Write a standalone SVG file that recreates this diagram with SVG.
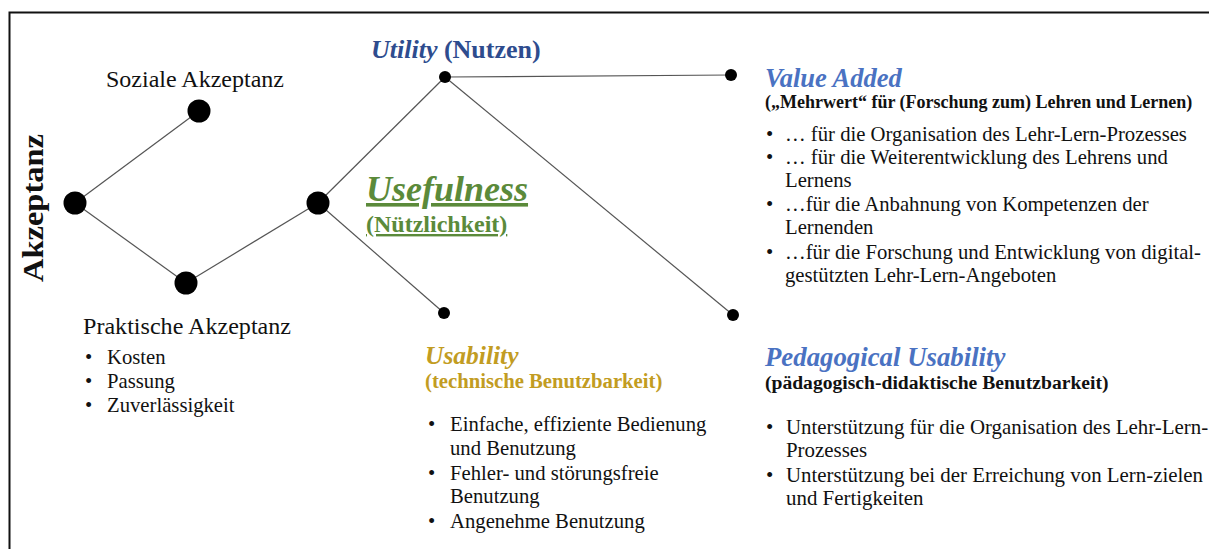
<svg xmlns="http://www.w3.org/2000/svg" width="1209" height="549" viewBox="0 0 1209 549">
<style>
text{font-family:"Liberation Serif","Times New Roman",serif;fill:#111}
.h{font-size:23px}
.b{font-size:20.7px}
.p{font-size:20.9px}
.bi{font-weight:bold;font-style:italic}
.bo{font-weight:bold}
.sub{font-size:18px;font-weight:bold}
.ln{stroke:#555;stroke-width:1.2;fill:none}
.big{fill:#000}
.blue1{fill:#2E4C8E}
.blue2{fill:#4A72C2}
.green{fill:#5B8A3A}
.gold{fill:#C29C22}
</style>
<rect width="1209" height="549" fill="#fff"/>
<path d="M9.5 549 V12.5 H1209" fill="none" stroke="#111" stroke-width="2"/>
<g id="connectors">
<line class="ln" x1="75" y1="203" x2="199" y2="111"/>
<line class="ln" x1="75" y1="203" x2="186" y2="283"/>
<line class="ln" x1="186" y1="283" x2="318" y2="203"/>
<line class="ln" x1="318" y1="203" x2="445" y2="77"/>
<line class="ln" x1="318" y1="203" x2="444" y2="313"/>
<line class="ln" x1="445" y1="77" x2="731" y2="75"/>
<line class="ln" x1="445" y1="77" x2="733" y2="315"/>
</g>
<g id="akzeptanz">
<circle class="big" cx="75" cy="203" r="11.5"/>
<text class="bo" font-size="30" text-anchor="middle" textLength="148" lengthAdjust="spacingAndGlyphs" transform="translate(43,208) rotate(-90)">Akzeptanz</text>
</g>
<g id="soziale">
<circle class="big" cx="199" cy="111" r="11.5"/>
<text class="h" x="106" y="87" textLength="178" lengthAdjust="spacingAndGlyphs">Soziale Akzeptanz</text>
</g>
<g id="praktische">
<circle class="big" cx="186" cy="283" r="11.5"/>
<text class="h" x="83" y="334" textLength="208" lengthAdjust="spacingAndGlyphs">Praktische Akzeptanz</text>
<text class="b" x="85" y="364">•</text><text class="b" x="107" y="364">Kosten</text>
<text class="b" x="85" y="388">•</text><text class="b" x="107" y="388">Passung</text>
<text class="b" x="85" y="412">•</text><text class="b" x="107" y="412">Zuverlässigkeit</text>
</g>
<g id="usefulness">
<circle class="big" cx="318" cy="203" r="11.5"/>
<text class="bi green" x="366" y="201" font-size="36" text-decoration="underline">Usefulness</text>
<text class="bo green" x="366" y="232" font-size="24" text-decoration="underline">(Nützlichkeit)</text>
</g>
<g id="utility">
<circle class="big" cx="445" cy="77" r="6"/>
<text x="371" y="58" font-size="26" class="blue1"><tspan class="bi">Utility</tspan> <tspan class="bo">(Nutzen)</tspan></text>
</g>
<g id="value-added">
<circle class="big" cx="731" cy="75" r="6"/>
<text class="bi blue2" x="765" y="87" font-size="26.5">Value Added</text>
<text class="sub" x="765" y="108">(„Mehrwert“ für (Forschung zum) Lehren und Lernen)</text>
<text class="b" x="766" y="141">•</text><text class="b" x="785" y="141">… für die Organisation des Lehr-Lern-Prozesses</text>
<text class="b" x="766" y="164">•</text><text class="b" x="785" y="164">… für die Weiterentwicklung des Lehrens und</text>
<text class="b" x="785" y="187">Lernens</text>
<text class="b" x="766" y="211">•</text><text class="b" x="785" y="211">…für die Anbahnung von Kompetenzen der</text>
<text class="b" x="785" y="234">Lernenden</text>
<text class="b" x="766" y="259">•</text><text class="b" x="785" y="259">…für die Forschung und Entwicklung von digital-</text>
<text class="b" x="785" y="282">gestützten Lehr-Lern-Angeboten</text>
</g>
<g id="usability">
<circle class="big" cx="444" cy="313" r="6"/>
<text class="bi gold" x="425" y="364" font-size="25.5">Usability</text>
<text class="bo gold" x="425" y="388" font-size="20.7">(technische Benutzbarkeit)</text>
<text class="b" x="428" y="431">•</text><text class="b" x="450" y="431">Einfache, effiziente Bedienung</text>
<text class="b" x="450" y="455">und Benutzung</text>
<text class="b" x="428" y="480">•</text><text class="b" x="450" y="480">Fehler- und störungsfreie</text>
<text class="b" x="450" y="503">Benutzung</text>
<text class="b" x="428" y="528">•</text><text class="b" x="450" y="528">Angenehme Benutzung</text>
</g>
<g id="pedagogical-usability">
<circle class="big" cx="733" cy="315" r="6"/>
<text class="bi blue2" x="765" y="366" font-size="26.8">Pedagogical Usability</text>
<text class="bo" x="765" y="389" font-size="19.6">(pädagogisch-didaktische Benutzbarkeit)</text>
<text class="p" x="766" y="434">•</text><text class="p" x="786" y="434">Unterstützung für die Organisation des Lehr-Lern-</text>
<text class="p" x="786" y="457">Prozesses</text>
<text class="p" x="766" y="482">•</text><text class="p" x="786" y="482">Unterstützung bei der Erreichung von Lern-zielen</text>
<text class="p" x="786" y="505">und Fertigkeiten</text>
</g>
</svg>
